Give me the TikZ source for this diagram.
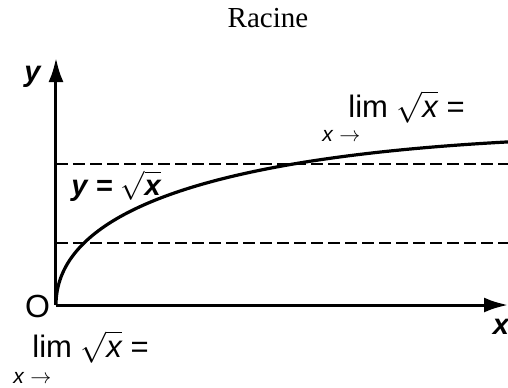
\documentclass[tikz,border=0pt]{standalone}
\RequirePackage{fix-cm}
\usepackage{fontspec}
\setmainfont{Liberation Serif}
\setsansfont{Liberation Sans}
\usetikzlibrary{arrows.meta}

\begin{document}
\begin{tikzpicture}[x=0.5pt, y=0.5pt, >={Latex[length=12pt,width=7.5pt]},
        axis/.style={line width=1.5pt, ->},
        guide/.style={dash pattern=on 6pt off 2.5pt, line width=0.8pt},
        curve/.style={line width=1.6pt},
        lbl/.style={font=\sffamily\fontsize{15.5}{18}\selectfont, inner sep=0pt, anchor=base west},
        sublbl/.style={font=\sffamily\fontsize{10.5}{12}\selectfont, inner sep=0pt, anchor=base west},
        blbl/.style={font=\sffamily\bfseries\itshape\fontsize{14.5}{17}\selectfont, inner sep=0pt, anchor=base west}]
        \useasboundingbox (-56,-82) rectangle (452,305);
        % ---- titre ----
        \node[font=\fontsize{14.5}{17}\selectfont, anchor=base] (title) at (212, 278) {Racine};
        % ---- axes ----
        \coordinate (O) at (0,0);
        \coordinate (xend) at (452,0);
        \coordinate (yend) at (0,247);
        \draw[axis] (O) -- (xend);
        \draw[axis] (O) -- (yend);
        \node[font=\sffamily\fontsize{16}{18}\selectfont, inner sep=0pt] (olbl) at (-18.5,-1) {O};
        \node[blbl] (ylbl) at (-32,224) {y};
        \node[blbl, anchor=base] (xlbl) at (445,-29) {x};
        % ---- asymptotes (tirets) ----
        \coordinate (h1a) at (0,141);
        \coordinate (h1b) at (452,141);
        \coordinate (h2a) at (0,62);
        \coordinate (h2b) at (452,62);
        \draw[guide] (h1a) -- (h1b);
        \draw[guide] (h2a) -- (h2b);
        % ---- courbe ----
        \draw[curve] plot[domain=0:21.26, samples=150, variable=\s] ({\s*\s}, {13.05*\s - 0.253*\s*\s});
        \node[blbl] (flbl) at (15,110) {y = $\sqrt{\textbf{\textit{x}}}$};
        % ---- limites ----
        \node[lbl] (limhaut) at (292,188) {lim $\sqrt{\textit{x}}$ =};
        \node[sublbl] (subhaut) at (266,164) {\textit{x} $\rightarrow$};
        \node[lbl] (limbas) at (-24,-52) {lim $\sqrt{\textit{x}}$ =};
        \node[sublbl] (subbas) at (-43,-78) {\textit{x} $\rightarrow$};
    \end{tikzpicture}
\end{document}
